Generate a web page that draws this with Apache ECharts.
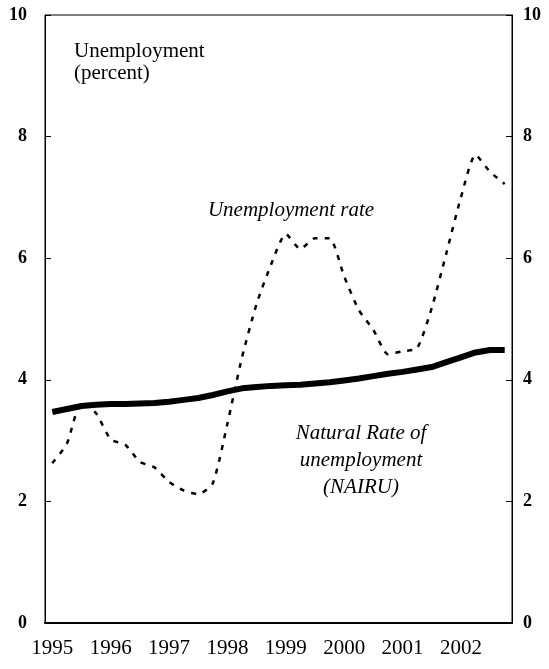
<!DOCTYPE html>
<html>
<head>
<meta charset="utf-8">
<script src="https://cdn.jsdelivr.net/npm/echarts@6/dist/echarts.min.js"></script>
<style>
  html, body { margin: 0; padding: 0; background: #fff; }
  #chart { width: 549px; height: 669px; }
</style>
</head>
<body>
<div id="chart"></div>
<script type="text/javascript">
// quarters 1995Q1 .. 2002Q4
var quarters = [
  '1995Q1','1995Q2','1995Q3','1995Q4','1996Q1','1996Q2','1996Q3','1996Q4',
  '1997Q1','1997Q2','1997Q3','1997Q4','1998Q1','1998Q2','1998Q3','1998Q4',
  '1999Q1','1999Q2','1999Q3','1999Q4','2000Q1','2000Q2','2000Q3','2000Q4',
  '2001Q1','2001Q2','2001Q3','2001Q4','2002Q1','2002Q2','2002Q3','2002Q4'
];
// unemployment rate (percent)
var unempRate = [
  2.63, 2.95, 3.63, 3.45, 3.02, 2.93, 2.65, 2.56,
  2.32, 2.18, 2.12, 2.30, 3.28, 4.37, 5.25, 5.90,
  6.40, 6.15, 6.33, 6.33, 5.70, 5.15, 4.82, 4.42,
  4.47, 4.52, 5.18, 6.08, 7.00, 7.70, 7.42, 7.22
];
// natural rate of unemployment (NAIRU)
var nairu = [
  3.47, 3.52, 3.57, 3.59, 3.60, 3.60, 3.61, 3.62,
  3.64, 3.67, 3.70, 3.75, 3.81, 3.86, 3.88, 3.90,
  3.91, 3.92, 3.94, 3.96, 3.99, 4.02, 4.06, 4.10,
  4.13, 4.17, 4.21, 4.29, 4.37, 4.45, 4.49, 4.49
];
var yTicks = [0, 2, 4, 6, 8, 10];

var chart = echarts.init(document.getElementById('chart'));
var serif = '"Liberation Serif", "DejaVu Serif", serif';

function yAxis(pos, margin) {
  return {
    type: 'value',
    position: pos,
    min: yTicks[0],
    max: yTicks[yTicks.length - 1],
    interval: 2,
    splitLine: { show: false },
    axisLine: { show: true, lineStyle: { color: '#000', width: 1 } },
    axisTick: { show: true, inside: true, length: 6, lineStyle: { color: '#000' } },
    axisLabel: { color: '#000', fontFamily: serif, fontSize: 18, fontWeight: 'bold', margin: margin }
  };
}

var option = {
  animation: false,
  backgroundColor: '#fff',
  grid: {
    left: 45, right: 37, top: 15, bottom: 46,
    show: true, borderColor: '#000', borderWidth: 1, backgroundColor: 'transparent'
  },
  xAxis: {
    type: 'category',
    data: quarters,
    boundaryGap: true,
    axisLine: { show: true, lineStyle: { color: '#000', width: 2 } },
    axisTick: { show: false },
    axisLabel: {
      interval: 3,
      color: '#000',
      fontFamily: serif,
      fontSize: 21,
      margin: 15,
      formatter: function (v) { return v.slice(0, 4); }
    }
  },
  yAxis: [yAxis('left', 18), yAxis('right', 11)],
  graphic: [
    { type: 'text', x: 74, y: 40, style: { text: 'Unemployment\n(percent)', font: '21px ' + serif, fill: '#000', lineHeight: 22 } },
    { type: 'text', x: 291, y: 210, style: { text: 'Unemployment rate', font: 'italic 21px ' + serif, fill: '#000', align: 'center', verticalAlign: 'middle' } },
    { type: 'text', x: 361, y: 420, style: { text: 'Natural Rate of\nunemployment\n(NAIRU)', font: 'italic 21px ' + serif, fill: '#000', align: 'center', lineHeight: 27 } }
  ],
  series: [
    {
      name: 'Unemployment rate',
      type: 'line',
      data: unempRate,
      smooth: 0.2,
      symbol: 'none',
      lineStyle: { color: '#000', width: 2.5, type: [5, 7] },
      z: 3
    },
    {
      name: 'NAIRU',
      type: 'line',
      data: nairu,
      symbol: 'none',
      lineStyle: { color: '#000', width: 6 },
      z: 4
    }
  ]
};

chart.setOption(option);
</script>
</body>
</html>
